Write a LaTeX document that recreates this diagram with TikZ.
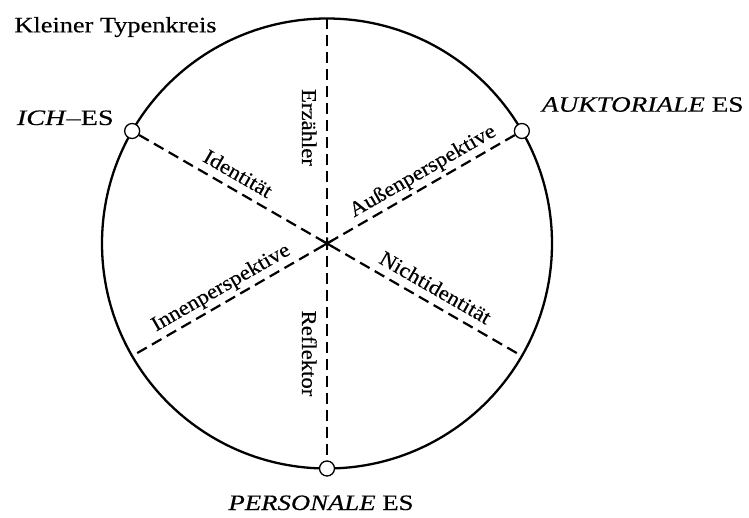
\documentclass[tikz,border=0pt]{standalone}
\usepackage{fontspec}
\setmainfont{Liberation Serif}[FakeBold=0.3]
\newfontfamily\labfont[FakeStretch=1.08,FakeBold=0.3]{Liberation Serif}
\usetikzlibrary{calc}
\newcommand{\fitw}[2]{\resizebox{#1}{\height}{#2}}
\begin{document}
\begin{tikzpicture}[x=1pt,y=1pt,
  dia/.style={line width=2.2pt, dash pattern=on 11pt off 6pt},
  rim/.style={line width=2.3pt},
  marker/.style={circle, draw, line width=1.3pt, fill=white, minimum size=15pt, inner sep=0pt},
  lab/.style={font=\labfont\fontsize{21}{25}\selectfont, inner sep=0pt, anchor=base},
  ttl/.style={font=\fontsize{22}{26}\selectfont, inner sep=0pt, anchor=base west},
  starline/.style={line width=2pt}]
\useasboundingbox (0,0) rectangle (749,-518);
\coordinate (O) at (327,-243.5);
\draw[rim] (O) circle (225pt);
% diameter end points
\coordinate (top) at ($(O)+(90:225pt)$);
\coordinate (ichopp) at ($(O)+(330:225pt)$);
\coordinate (auktopp) at ($(O)+(210:225pt)$);
% markers
\node[marker] (ich) at ($(O)+(150:225pt)$) {};
\node[marker] (aukt) at ($(O)+(30:225pt)$) {};
\node[marker] (pers) at ($(O)+(270:225pt)$) {};
% diameters
\draw[dia] (top) -- (pers);
\draw[dia] (ich) -- (ichopp);
\draw[dia] (aukt) -- (auktopp);
% star at centre
\coordinate (s1) at ($(O)+(90:6pt)$);
\coordinate (s2) at ($(O)+(270:6pt)$);
\coordinate (s3) at ($(O)+(30:6pt)$);
\coordinate (s4) at ($(O)+(210:6pt)$);
\coordinate (s5) at ($(O)+(150:6pt)$);
\coordinate (s6) at ($(O)+(330:6pt)$);
\draw[starline] (s1) -- (s2) (s3) -- (s4) (s5) -- (s6);
% axis labels
\node[lab, rotate=-30] (ident) at ($(O)+(150:112pt)+(60:9pt)$) {Identität};
\node[lab, rotate=30] (aussen) at ($(O)+(30:119pt)+(120:9pt)$) {Außenperspektive};
\node[lab, rotate=30] (innen) at ($(O)+(210:114pt)+(120:9pt)$) {Innenperspektive};
\node[lab, rotate=-30] (nicht) at ($(O)+(330:116pt)+(60:9pt)$) {Nichtidentität};
\node[lab, rotate=-90] (erz) at ($(O)+(-25pt,116pt)$) {Erzähler};
\node[lab, rotate=-90] (refl) at ($(O)+(-25pt,-110pt)$) {Reflektor};
% titles
\node[ttl] (kt) at (14.3,-32.3) {\fitw{202pt}{Kleiner Typenkreis}};
\node[ttl] (ichl) at (16.7,-125) {\fitw{96.7pt}{\textit{ICH}–ES}};
\node[ttl] (auktl) at (541.7,-111.7) {\fitw{201.6pt}{\textit{AUKTORIALE} ES}};
\node[ttl] (persl) at (228.3,-510) {\fitw{185pt}{\textit{PERSONALE} ES}};
\end{tikzpicture}
\end{document}
